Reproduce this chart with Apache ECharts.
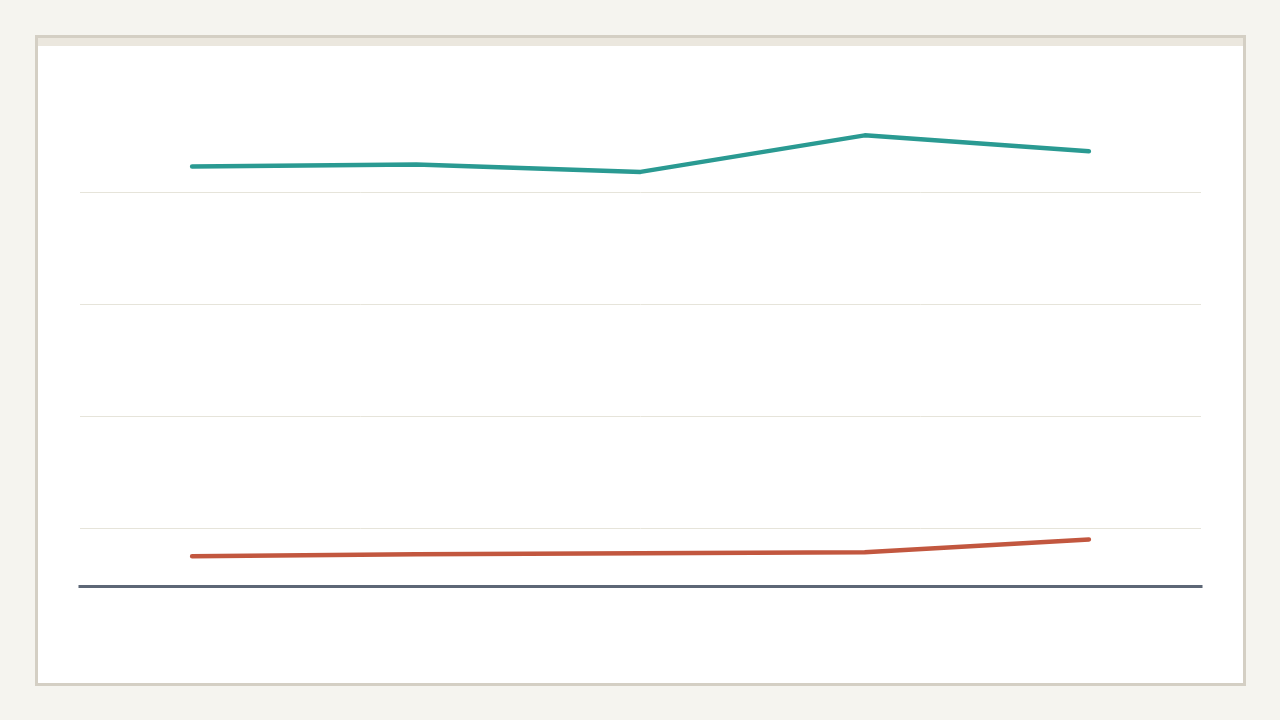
<!DOCTYPE html>
<html>
<head>
<meta charset="utf-8">
<style>
  html, body { margin: 0; padding: 0; background: #f5f4ef; }
  body { width: 1280px; height: 720px; position: relative; overflow: hidden; }
  .card {
    position: absolute; left: 35px; top: 35px; width: 1211px; height: 651px;
    box-sizing: border-box; border: 3px solid #d4cfc4; background: #fff;
  }
  .card .strip { height: 8px; background: #ebe7de; }
  #chart { position: absolute; left: 0; top: 0; width: 1280px; height: 720px; }
</style>
<script src="https://cdn.jsdelivr.net/npm/echarts@6/dist/echarts.min.js"></script>
</head>
<body>
<div class="card"><div class="strip"></div></div>
<div id="chart"></div>
<script>
// no labels are shown in the chart, so categories are placeholders
const categories = ['P1', 'P2', 'P3', 'P4', 'P5']
const tealValues = [211.4, 212.3, 209.0, 225.3, 218.2]
const redValues = [37.5, 38.4, 38.8, 39.3, 45.0]

const chart = echarts.init(document.getElementById('chart'), null, { renderer: 'canvas' })

chart.setOption({
  backgroundColor: 'transparent',
  animation: false,
  grid: { left: 80, right: 79, top: 80, bottom: 133.5 },
  xAxis: {
    type: 'category',
    data: categories,
    boundaryGap: true,
    axisLine: { onZero: false, lineStyle: { color: '#5d6776', width: 3, cap: 'square' } },
    axisTick: { show: false },
    axisLabel: { show: false },
    splitLine: { show: false }
  },
  yAxis: {
    type: 'value',
    min: 24,
    max: 250,
    axisLine: { show: false },
    axisTick: { show: false },
    axisLabel: { show: false },
    splitLine: {
      show: true,
      showMinLine: false,
      showMaxLine: false,
      lineStyle: { color: '#e6e4da', width: 1 }
    }
  },
  series: [
    {
      name: 'teal',
      type: 'line',
      data: tealValues,
      symbol: 'none',
      color: '#2a9a92',
      lineStyle: { width: 4.5, color: '#2a9a92', cap: 'round' }
    },
    {
      name: 'red',
      type: 'line',
      data: redValues,
      symbol: 'none',
      color: '#c2573f',
      lineStyle: { width: 4.5, color: '#c2573f', cap: 'round' }
    }
  ]
})
</script>
</body>
</html>
